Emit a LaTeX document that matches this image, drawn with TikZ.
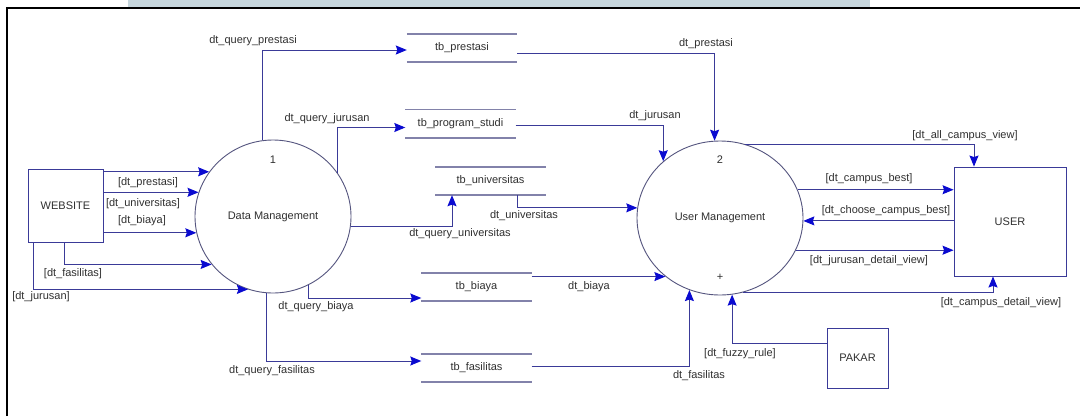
\documentclass[tikz,border=0pt]{standalone}
\usepackage{fontspec}
\setmainfont{Liberation Sans}
\usetikzlibrary{arrows.meta,shapes.geometric}
\definecolor{flowline}{HTML}{3A3A98}
\definecolor{tipblue}{HTML}{0A0AD0}
\definecolor{procline}{HTML}{55557F}
\definecolor{storeline}{HTML}{8282AA}
\definecolor{labeltext}{HTML}{303030}
\definecolor{bandblue}{HTML}{C6D6DD}
\tikzset{
  tipflow/.tip={Stealth[length=11pt,width=9pt,inset=1.5pt,fill=tipblue,color=tipblue]}
}

\begin{document}
\begin{tikzpicture}[x=1pt,y=-1pt,
  every node/.style={font=\fontsize{11}{13}\selectfont, text=labeltext},
  proc/.style={ellipse, draw=procline, line width=0.9pt, inner sep=0pt},
  entity/.style={rectangle, draw=flowline, line width=0.9pt, inner sep=0pt},
  store/.style={inner sep=0pt, minimum width=110pt, minimum height=28pt},
  flow/.style={draw=flowline, line width=1pt, -tipflow},
  lbl/.style={inner sep=0pt},
]
\useasboundingbox (0,0) rectangle (1080,416);
\fill[white] (0,0) rectangle (1080,416);
\fill[bandblue] (128,0) rectangle (870,7);
\draw[line width=2pt] (7,416) -- (7,8) -- (1080,8);

% processes
\node[proc, minimum width=156pt, minimum height=153pt] (dm) at (273,216.5) {Data Management};
\node (dmnum) at (273,160) {1};
\node[proc, minimum width=166pt, minimum height=154pt] (um) at (720,218) {User Management};
\node (umnum) at (720,160) {2};
\node (umplus) at (720,277) {+};

% external entities
\node[entity, minimum width=75pt, minimum height=73pt] (web) at (65.5,205.5) {WEBSITE};
\node[entity, minimum width=112pt, minimum height=109pt] (user) at (1010,221.5) {USER};
\node[entity, minimum width=61pt, minimum height=60pt] (pakar) at (857.5,358) {PAKAR};

% data stores
\node[store] (prestasi) at (462,48) {tb\_prestasi};
\node[store] (prodi) at (460.5,123.5) {tb\_program\_studi};
\node[store] (univ) at (490.5,181) {tb\_universitas};
\node[store] (biaya) at (476.5,287) {tb\_biaya};
\node[store] (fas) at (476.5,368) {tb\_fasilitas};
\foreach \s in {prestasi,prodi,univ,biaya,fas}
  \draw[storeline, line width=1.6pt] (\s.north west) -- (\s.north east)
                                     (\s.south west) -- (\s.south east);

% WEBSITE -> Data Management
\draw[flow] (web.east |- dm.145) -- (dm.145);
\draw[flow] (web.east |- dm.162) -- (dm.162);
\draw[flow] (web.east |- dm.192) -- (dm.192);
\draw[flow] ([xshift=-1.5pt]web.south) |- (dm.218);
\draw[flow] ([xshift=-32.5pt]web.south) |- (dm.251);

% Data Management -> stores
\draw[flow] (dm.98) |- ([yshift=-2pt]prestasi.west);
\draw[flow] (dm.34) |- ([yshift=-4pt]prodi.west);
\draw[flow] (dm.353) -| ([xshift=-38.5pt]univ.south);
\draw[flow] (dm.297) |- ([yshift=-11pt]biaya.west);
\draw[flow] (dm.265) |- ([yshift=7pt]fas.west);

% stores -> User Management
\draw[flow] ([yshift=-5pt]prestasi.east) -| (um.94);
\draw[flow] ([yshift=-1.5pt]prodi.east) -| (um.135);
\draw[flow] ([xshift=26.5pt]univ.south) |- (um.173);
\draw[flow] (biaya.east |- um.227) -- (um.227);
\draw[flow] ([yshift=2pt]fas.east) -| (um.247);
\draw[flow] ([yshift=15pt]pakar.west) -| (um.279);

% User Management <-> USER
\draw[flow] (um.71) -| ([xshift=-36pt]user.north);
\draw[flow] (um.20) -- (um.20 -| user.west);
\draw[flow] (user.west |- um.358) -- (um.358);
\draw[flow] (um.337) -- (um.337 -| user.west);
\draw[flow] (um.287) -| ([xshift=-17pt]user.south);

% flow labels
\node[lbl] (lq1) at (253,41) {dt\_query\_prestasi};
\node[lbl] (lq2) at (327,119) {dt\_query\_jurusan};
\node[lbl] (lq3) at (460,234) {dt\_query\_universitas};
\node[lbl] (lq4) at (316,307) {dt\_query\_biaya};
\node[lbl] (lq5) at (272,371) {dt\_query\_fasilitas};
\node[lbl] (lw1) at (148,183) {[dt\_prestasi]};
\node[lbl] (lw2) at (143,204) {[dt\_universitas]};
\node[lbl] (lw3) at (142,221) {[dt\_biaya]};
\node[lbl] (lw4) at (73,274) {[dt\_fasilitas]};
\node[lbl] (lw5) at (41,297) {[dt\_jurusan]};
\node[lbl] (ls1) at (706,44) {dt\_prestasi};
\node[lbl] (ls2) at (655,116) {dt\_jurusan};
\node[lbl] (ls3) at (524,216) {dt\_universitas};
\node[lbl] (ls4) at (589,287) {dt\_biaya};
\node[lbl] (ls5) at (699,376) {dt\_fasilitas};
\node[lbl] (lp) at (740,354) {[dt\_fuzzy\_rule]};
\node[lbl] (lu1) at (965,136) {[dt\_all\_campus\_view]};
\node[lbl] (lu2) at (869,179) {[dt\_campus\_best]};
\node[lbl] (lu3) at (886,211) {[dt\_choose\_campus\_best]};
\node[lbl] (lu4) at (869,261) {[dt\_jurusan\_detail\_view]};
\node[lbl] (lu5) at (1001,303) {[dt\_campus\_detail\_view]};
\end{tikzpicture}
\end{document}
